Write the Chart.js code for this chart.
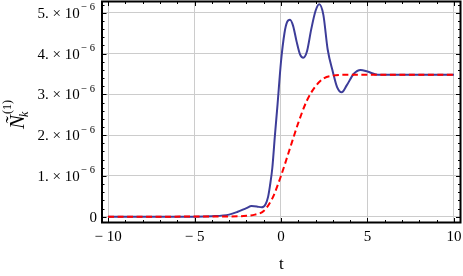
<!DOCTYPE html>
<html>
<head>
<meta charset="utf-8">
<script src="https://cdn.jsdelivr.net/npm/chart.js@4"></script>
<style>
  html, body { margin: 0; padding: 0; background: #fff; }
  #wrap { width: 463px; height: 276px; }
</style>
</head>
<body>
<div id="wrap"><canvas id="chart"></canvas></div>
<script>
// values in units of 1e-6 (labels say ×10^-6)
const tBlue = [-10, -5, -4, -3, -2.5, -2, -1.7, -1.4, -1.12, -0.9, -0.75, -0.64, -0.5, -0.35, -0.2, 0, 0.2, 0.35, 0.52, 0.7, 0.9, 1.1, 1.29, 1.5, 1.75, 2.0, 2.21, 2.45, 2.7, 3.0, 3.25, 3.51, 3.8, 4.2, 4.6, 5.0, 5.6, 6.5, 10];
const nBlue = [0, 0, 0.01, 0.05, 0.12, 0.21, 0.26, 0.25, 0.23, 0.3, 0.48, 0.75, 1.2, 2.0, 2.75, 3.8, 4.5, 4.77, 4.83, 4.68, 4.3, 3.98, 3.9, 4.05, 4.6, 5.05, 5.21, 4.95, 4.1, 3.55, 3.17, 3.05, 3.22, 3.5, 3.6, 3.56, 3.48, 3.48, 3.48];

const tRed = [-10, -3, -2, -1.5, -1, -0.5, 0, 0.5, 1, 1.5, 2, 2.5, 3, 3.5, 4, 10];
const nRed = [0, 0.005, 0.02, 0.05, 0.14, 0.45, 1.0, 1.65, 2.3, 2.85, 3.2, 3.4, 3.46, 3.48, 3.48, 3.48];

const xTicks = [-10, -5, 0, 5, 10];
const yTicks = [0, 1, 2, 3, 4, 5];

const serif = "'Liberation Serif', 'DejaVu Serif', serif";

function toPoints(xs, ys) {
    return xs.map((t, i) => ({x: t, y: ys[i]}));
}

// frame, inner ticks, y labels with exponent and the y title
const framePlugin = {
    id: 'frame',
    afterDraw(chart) {
        const ctx = chart.ctx;
        const a = chart.chartArea;
        const x = chart.scales.x;
        const y = chart.scales.y;
        ctx.save();
        ctx.strokeStyle = '#000';
        ctx.lineWidth = 1;
        ctx.beginPath();
        for (let t = -10; t <= 10; t++) {
            const px = Math.round(x.getPixelForValue(t)) + 0.5;
            const len = t % 5 === 0 ? 4.5 : 2.5;
            ctx.moveTo(px, a.bottom); ctx.lineTo(px, a.bottom - len);
            ctx.moveTo(px, a.top); ctx.lineTo(px, a.top + len);
        }
        for (let i = 0; i <= 26; i++) {
            const py = Math.round(y.getPixelForValue(i * 0.2)) + 0.5;
            const len = i % 5 === 0 ? 4.5 : 2.5;
            ctx.moveTo(a.left, py); ctx.lineTo(a.left + len, py);
            ctx.moveTo(a.right, py); ctx.lineTo(a.right - len, py);
        }
        ctx.stroke();
        ctx.lineWidth = 2;
        ctx.strokeRect(a.left, a.top, a.right - a.left, a.bottom - a.top);

        // y tick labels
        ctx.fillStyle = '#000';
        ctx.textAlign = 'right';
        ctx.textBaseline = 'alphabetic';
        yTicks.forEach(v => {
            const py = y.getPixelForValue(v);
            if (v === 0) {
                ctx.font = '15px ' + serif;
                ctx.fillText('0', 97, py + 5);
                return;
            }
            ctx.font = '10.5px ' + serif;
            const sup = '\u2212 6';
            const sw = ctx.measureText(sup).width;
            ctx.fillText(sup, 95, py - 2.5);
            ctx.font = '15px ' + serif;
            ctx.fillText(v + '. \u00d7 10', 95 - sw - 1.5, py + 5);
        });

        // y title, rotated
        ctx.translate(24, 129);
        ctx.rotate(-Math.PI / 2);
        ctx.textAlign = 'left';
        ctx.font = 'italic 21px ' + serif;
        ctx.fillText('\u00d1', 0, 0);
        const nw = ctx.measureText('\u00d1').width;
        ctx.font = 'italic 12px ' + serif;
        ctx.fillText('k', nw - 2, 4);
        ctx.font = '12px ' + serif;
        ctx.fillText('(1)', nw + 1, -13);
        ctx.restore();
    }
};

new Chart(document.getElementById('chart'), {
    type: 'line',
    data: {
        datasets: [{
            data: toPoints(tRed, nRed),
            borderColor: '#ff0000',
            borderWidth: 2,
            borderDash: [6, 3.5],
            pointRadius: 0,
            cubicInterpolationMode: 'monotone',
            fill: false
        }, {
            data: toPoints(tBlue, nBlue),
            borderColor: '#3d3d99',
            borderWidth: 2,
            pointRadius: 0,
            cubicInterpolationMode: 'monotone',
            fill: false
        }]
    },
    options: {
        responsive: true,
        maintainAspectRatio: false,
        animation: false,
        layout: { padding: { left: 102, right: 2.5, top: 1.5, bottom: 0 } },
        plugins: {
            legend: { display: false },
            tooltip: { enabled: false }
        },
        scales: {
            x: {
                type: 'linear',
                min: -10.35,
                max: 10.38,
                afterBuildTicks: scale => { scale.ticks = xTicks.map(v => ({value: v})); },
                afterFit: scale => {
                    scale.height = 53.5;
                    scale.paddingLeft = 0;
                    scale.paddingRight = 0;
                },
                grid: { color: '#cccccc', lineWidth: 1, drawTicks: false },
                border: { display: false },
                ticks: {
                    color: '#000',
                    padding: 6,
                    font: { family: serif, size: 15 },
                    callback: v => v < 0 ? '\u2212 ' + Math.abs(v) : String(v)
                },
                title: {
                    display: true,
                    text: 't',
                    color: '#000',
                    font: { family: serif, size: 17 },
                    padding: { top: 0, bottom: 1 }
                }
            },
            y: {
                type: 'linear',
                min: -0.143,
                max: 5.278,
                afterBuildTicks: scale => { scale.ticks = yTicks.map(v => ({value: v})); },
                afterFit: scale => { scale.width = 0; },
                grid: { color: '#cccccc', lineWidth: 1, drawTicks: false },
                border: { display: false },
                ticks: { display: false }
            }
        }
    },
    plugins: [framePlugin]
});
</script>
</body>
</html>
